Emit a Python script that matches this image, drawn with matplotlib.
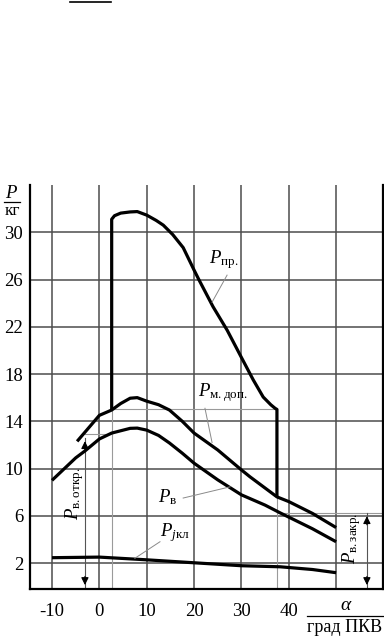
import matplotlib
matplotlib.use("Agg")
import matplotlib.pyplot as plt
from matplotlib.lines import Line2D

plt.rcParams['font.family'] = ['Liberation Serif', 'DejaVu Serif']
plt.rcParams['mathtext.fontset'] = 'custom'
plt.rcParams['mathtext.rm'] = 'Liberation Serif'
plt.rcParams['mathtext.it'] = 'Liberation Serif:italic'

# curves (alpha in grad PKV, P in kg)
a_pr = [2.6, 2.6, 3.2, 4.5, 6.5, 8, 10, 12, 13.5, 15.5, 17.7, 20, 21, 24, 27, 30, 32.5, 34.6, 36.2, 37.1, 37.5, 37.5]
p_pr = [14.95, 31.1, 31.4, 31.62, 31.72, 31.75, 31.45, 31.0, 30.6, 29.8, 28.7, 26.8, 26.0, 23.7, 21.7, 19.4, 17.5, 16.05, 15.4, 15.1, 15.0, 7.6]

a_mdop = [-4.7, 0, 2.6, 4.5, 6.5, 8, 10, 12.5, 14.8, 17.5, 20, 25, 30, 31.8, 37.5, 40, 45, 50]
p_mdop = [12.3, 14.5, 14.95, 15.5, 15.95, 16.0, 15.7, 15.4, 14.95, 14.0, 13.0, 11.57, 9.88, 9.3, 7.6, 7.2, 6.2, 5.0]

a_v = [-10, -5, -3, 0, 2.6, 6.5, 8, 10, 12.5, 14.8, 17.5, 20, 25, 30, 35, 38.2, 45, 50]
p_v = [9.0, 10.9, 11.5, 12.5, 13.0, 13.4, 13.42, 13.25, 12.8, 12.16, 11.3, 10.45, 9.04, 7.77, 6.9, 6.24, 4.9, 3.8]

a_j = [-10, 0, 10, 20, 30, 38.2, 45, 50]
p_j = [2.45, 2.5, 2.27, 2.02, 1.77, 1.68, 1.45, 1.18]

x_ticks = [-10, 0, 10, 20, 30, 40, 50]
x_labels = ['-10', '0', '10', '20', '30', '40', '']
y_ticks = [2, 6, 10, 14, 18, 22, 26, 30]

a_open, p_open = -3.05, 12.55     # valve open mark
a_inj, p_inj = 2.6, 14.95         # start of P_pr
a_end, p_end = 37.5, 15.0         # end of P_pr
a_close, p_close = 56.5, 6.2      # valve close mark

fig = plt.figure(figsize=(3.84, 6.36), dpi=100)
ax = fig.add_axes([30/384, 1-589/636, 353/384, 404/636])
ax.set_xlim(-14.65, 59.9)
ax.set_ylim(-0.2, 34)

ax.set_xticks(x_ticks)
ax.set_xticklabels(x_labels)
ax.set_yticks(y_ticks)
ax.tick_params(length=0, labelsize=13.5)
ax.tick_params(axis='x', pad=10)
ax.tick_params(axis='y', pad=5)
ax.grid(color='#4d4d4d', lw=1.1)
ax.set_axisbelow(True)
for s in ['left', 'right', 'bottom']:
    ax.spines[s].set_linewidth(1.6)
ax.spines['top'].set_visible(False)

# thin projection lines
thin = dict(color='#9a9a9a', lw=0.8)
ax.plot([a_open, a_inj], [p_open + 0.35, p_open + 0.35], **thin)
ax.plot([a_inj, a_inj], [-0.2, p_inj], **thin)
ax.plot([a_inj, a_end], [p_end, p_end], **thin)
ax.plot([a_end, a_end], [-0.2, p_end], **thin)
ax.plot([a_end, 59.9], [p_close, p_close], **thin)

# double arrows
for ax_x, top in [(a_open, p_open), (a_close, p_close)]:
    ax.plot([ax_x, ax_x], [0, top], color='#555555', lw=0.8)
    ax.annotate('', xy=(ax_x, top), xytext=(ax_x, top - 1.2),
                arrowprops=dict(arrowstyle='-|>', color='black', lw=0.8, mutation_scale=11))
    ax.annotate('', xy=(ax_x, -0.1), xytext=(ax_x, 1.1),
                arrowprops=dict(arrowstyle='-|>', color='black', lw=0.8, mutation_scale=11))

thick = dict(color='black', lw=2.3, solid_joinstyle='round', solid_capstyle='butt')
ax.plot(a_pr, p_pr, **thick)
ax.plot(a_mdop, p_mdop, **thick)
ax.plot(a_v, p_v, **thick)
ax.plot(a_j, p_j, **thick)

# leader lines and labels
lead = dict(color='#8a8a8a', lw=0.7)
ax.plot([26.97, 23.8], [26.37, 24.08], **lead)
ax.plot([22.3, 23.8], [15.1, 12.2], **lead)
ax.plot([17.7, 27.6], [7.5, 8.45], **lead)
ax.plot([12.8, 7.5], [3.8, 2.4], **lead)

lab = dict(fontsize=13.5, ha='center', va='center')
ax.text(26.3, 27.7, r'$P_{\mathrm{пр.}}$', **lab)
ax.text(26.0, 16.4, r'$P_{\mathrm{м.доп.}}$', **lab)
ax.text(14.5, 7.6, r'$P_{\mathrm{в}}$', **lab)
ax.text(16.0, 4.6, r'$P_{j\mathrm{кл}}$', **lab)
ax.text(-5.3, 7.9, r'$P_{\mathrm{в.откр.}}$', rotation=90, **lab)
ax.text(53.2, 4.1, r'$P_{\mathrm{в.закр.}}$', rotation=90, **lab)

# axis labels drawn as fractions
def fx(px):
    return px / 384

def fy(py):
    return 1 - py / 636

fig.text(fx(12), fy(193), r'$P$', fontsize=13.5, ha='center', va='center')
fig.add_artist(Line2D([fx(4), fx(20)], [fy(202), fy(202)], color='black', lw=0.9))
fig.text(fx(12), fy(211), 'кг', fontsize=12.5, ha='center', va='center')

fig.text(fx(346), fy(606), r'$\alpha$', fontsize=14, ha='center', va='center')
fig.add_artist(Line2D([fx(307), fx(383)], [fy(616), fy(616)], color='black', lw=0.9))
fig.text(fx(345), fy(627), 'град ПКВ', fontsize=13, ha='center', va='center')

# stray rule at the top of the page
fig.add_artist(Line2D([fx(70), fx(111)], [fy(1.7), fy(1.7)], color='black', lw=1.2))

fig.savefig('out.png', dpi=100)
